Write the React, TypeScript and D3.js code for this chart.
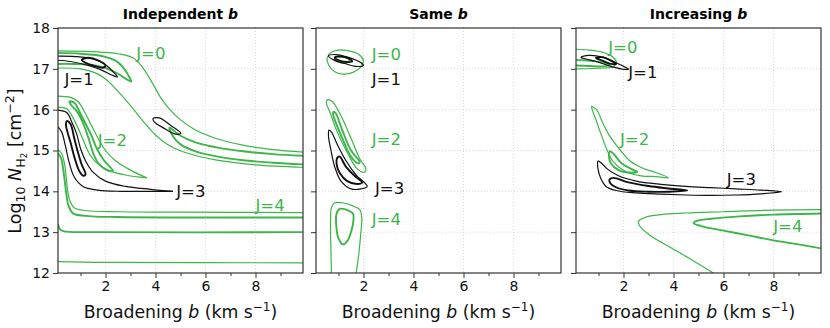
import { useLayoutEffect, useRef } from 'react'
import * as d3 from 'd3'

type Pt = [number, number]

// panel setup
const panelTitles = ['Independent', 'Same', 'Increasing']
const xTicks = [2, 4, 6, 8]
const xMinorTicks = [1, 3, 5, 7, 9]
const yTicks = [12, 13, 14, 15, 16, 17, 18]

// ---- Independent b ----
const indepJ0OuterTop: Pt[] = [[0.1, 17.44], [1.5, 17.42], [2.5, 17.37], [3.1, 17.27], [3.5, 17.02], [3.88, 16.65], [4.2, 16.3], [4.55, 16.02], [5.0, 15.75], [5.6, 15.5], [6.4, 15.3], [7.5, 15.13], [8.7, 15.02], [9.9, 14.96]]
const indepJ0OuterBottom: Pt[] = [[0.1, 17.02], [1.0, 17.0], [1.6, 16.9], [2.0, 16.75], [2.5, 16.45], [3.0, 16.1], [3.5, 15.72], [4.0, 15.38], [4.5, 15.14], [5.1, 14.97], [6.4, 14.77], [8.0, 14.65], [9.9, 14.59]]
const indepJ0InnerTongue: Pt[] = [[0.1, 17.39], [1.0, 17.37], [1.8, 17.32], [2.4, 17.2], [2.75, 17.0], [2.95, 16.8], [3.03, 16.69], [2.85, 16.74], [2.5, 16.88], [2.0, 17.02], [1.4, 17.1], [0.7, 17.12], [0.1, 17.12]]
const indepJ0InnerRight: Pt[] = [[9.9, 14.87], [8.7, 14.91], [7.5, 14.98], [6.5, 15.07], [5.6, 15.2], [5.0, 15.36], [4.56, 15.56], [4.7, 15.35], [5.0, 15.15], [5.6, 14.98], [6.5, 14.85], [7.5, 14.76], [8.7, 14.7], [9.9, 14.66]]
const indepJ1Outer: Pt[] = [[0.1, 17.31], [0.8, 17.3], [1.5, 17.24], [2.0, 17.1], [2.3, 16.93], [2.48, 16.8], [2.25, 16.85], [1.8, 16.98], [1.2, 17.1], [0.6, 17.18], [0.1, 17.21]]
const indepJ1Inner: Pt[] = [[1.05, 17.22], [1.3, 17.27], [1.7, 17.21], [2.0, 17.08], [1.9, 17.03], [1.55, 17.07], [1.2, 17.15]]
const indepJ1Side: Pt[] = [[3.9, 15.78], [4.15, 15.8], [4.6, 15.62], [5.02, 15.42], [4.8, 15.4], [4.3, 15.56], [3.95, 15.7]]
const indepJ2OuterLeft: Pt[] = [[0.1, 16.06], [0.45, 16.02], [0.7, 15.8], [0.9, 15.55], [1.08, 15.3], [1.3, 14.98], [1.6, 14.72], [2.1, 14.52], [2.8, 14.4], [3.65, 14.33]]
const indepJ2OuterRight: Pt[] = [[0.1, 16.33], [0.6, 16.3], [0.9, 16.2], [1.2, 15.9], [1.45, 15.6], [1.7, 15.3], [2.0, 15.0], [2.4, 14.75], [3.0, 14.52], [3.65, 14.33]]
const indepJ2Inner: Pt[] = [[0.55, 16.2], [0.75, 16.17], [1.0, 15.9], [1.25, 15.6], [1.45, 15.35], [1.65, 15.05], [1.95, 14.75], [2.3, 14.5], [2.05, 14.52], [1.7, 14.7], [1.5, 14.95], [1.32, 15.3], [1.15, 15.6], [0.9, 15.92], [0.62, 16.12]]
const indepJ3OuterLower: Pt[] = [[0.1, 15.58], [0.25, 15.45], [0.4, 15.1], [0.55, 14.7], [0.75, 14.35], [1.1, 14.12], [1.7, 14.03], [2.6, 14.0], [3.6, 14.0], [4.7, 14.0]]
const indepJ3OuterUpper: Pt[] = [[0.1, 15.99], [0.45, 15.93], [0.65, 15.7], [0.84, 15.42], [1.0, 15.05], [1.2, 14.75], [1.5, 14.47], [2.0, 14.25], [2.8, 14.12], [3.8, 14.05], [4.7, 14.0]]
const indepJ3Inner: Pt[] = [[0.45, 15.72], [0.6, 15.65], [0.75, 15.3], [0.9, 14.95], [1.05, 14.65], [1.2, 14.42], [1.12, 14.38], [0.95, 14.5], [0.75, 14.85], [0.6, 15.2], [0.48, 15.45], [0.42, 15.62]]
const indepJ4OuterTop: Pt[] = [[0.1, 15.02], [0.25, 14.92], [0.38, 14.6], [0.47, 14.1], [0.57, 13.78], [0.75, 13.6], [1.2, 13.53], [2.5, 13.5], [5, 13.49], [9.9, 13.48]]
const indepJ4InnerTop: Pt[] = [[0.1, 14.93], [0.22, 14.82], [0.33, 14.45], [0.42, 14.0], [0.52, 13.65], [0.7, 13.46], [1.2, 13.4], [2.5, 13.37], [5, 13.36], [9.9, 13.36]]
const indepJ4InnerBottom: Pt[] = [[0.1, 13.2], [0.18, 13.07], [0.35, 13.02], [1.5, 13.0], [9.9, 13.0]]
const indepJ4OuterBottom: Pt[] = [[0.1, 12.28], [2, 12.26], [9.9, 12.25]]

// ---- Same b ----
const sameJ0Outer: Pt[] = [[0.55, 17.28], [0.7, 17.4], [1.0, 17.46], [1.4, 17.44], [1.8, 17.36], [1.99, 17.22], [1.9, 17.05], [1.6, 16.92], [1.2, 16.87], [0.85, 16.93], [0.62, 17.08]]
const sameJ0Inner: Pt[] = [[0.85, 17.25], [1.0, 17.3], [1.3, 17.28], [1.45, 17.2], [1.3, 17.15], [1.0, 17.17]]
const sameJ1Outer: Pt[] = [[0.6, 17.32], [0.9, 17.35], [1.4, 17.28], [1.9, 17.15], [2.0, 17.08], [1.7, 17.06], [1.2, 17.14], [0.8, 17.22]]
const sameJ1Inner: Pt[] = [[0.85, 17.28], [1.1, 17.3], [1.45, 17.24], [1.55, 17.18], [1.3, 17.17], [1.0, 17.21]]
const sameJ2Outer: Pt[] = [[0.55, 16.24], [0.75, 16.2], [1.1, 15.85], [1.5, 15.3], [1.85, 14.8], [2.1, 14.55], [2.05, 14.47], [1.75, 14.55], [1.35, 14.95], [0.95, 15.45], [0.65, 15.95], [0.52, 16.15]]
const sameJ2Inner: Pt[] = [[0.8, 15.95], [0.9, 15.9], [1.15, 15.5], [1.5, 15.0], [1.85, 14.72], [1.8, 14.68], [1.5, 14.85], [1.15, 15.3], [0.85, 15.75], [0.78, 15.9]]
const sameJ3Outer: Pt[] = [[0.62, 15.5], [0.72, 15.45], [0.95, 15.15], [1.3, 14.75], [1.7, 14.4], [2.15, 14.12], [1.9, 14.06], [1.5, 14.06], [1.1, 14.25], [0.85, 14.6], [0.7, 15.0], [0.6, 15.35]]
const sameJ3Inner: Pt[] = [[0.95, 14.82], [1.05, 14.85], [1.3, 14.6], [1.7, 14.35], [1.95, 14.22], [1.75, 14.18], [1.35, 14.25], [1.05, 14.45], [0.93, 14.65]]
const sameJ4Outer: Pt[] = [[0.72, 11.9], [0.7, 12.5], [0.68, 13.2], [0.72, 13.6], [0.85, 13.72], [1.15, 13.72], [1.55, 13.65], [1.85, 13.55], [1.93, 13.35], [1.88, 12.9], [1.8, 12.4], [1.68, 11.9]]
const sameJ4Inner: Pt[] = [[0.92, 13.45], [1.05, 13.57], [1.3, 13.55], [1.58, 13.45], [1.6, 13.3], [1.5, 13.0], [1.35, 12.78], [1.18, 12.7], [1.0, 12.85], [0.92, 13.1]]

// ---- Increasing b ----
const incrJ0Outer: Pt[] = [[0.1, 17.48], [0.6, 17.46], [1.2, 17.4], [1.55, 17.3], [1.72, 17.15], [1.6, 17.05], [1.2, 17.02], [0.1, 17.0]]
const incrJ0Inner: Pt[] = [[0.1, 17.22], [0.6, 17.2], [1.1, 17.16], [1.45, 17.1], [1.2, 17.06], [0.6, 17.07], [0.1, 17.08]]
const incrJ1Outer: Pt[] = [[0.3, 17.28], [0.6, 17.33], [1.2, 17.28], [1.7, 17.15], [2.1, 17.03], [2.2, 16.99], [1.9, 17.0], [1.4, 17.08], [0.9, 17.18], [0.5, 17.24]]
const incrJ1Inner: Pt[] = [[0.9, 17.27], [1.2, 17.28], [1.5, 17.2], [1.7, 17.12], [1.5, 17.12], [1.15, 17.2]]
const incrJ2Outer: Pt[] = [[0.72, 16.08], [0.8, 16.06], [0.95, 15.98], [1.15, 15.7], [1.4, 15.4], [1.75, 15.1], [2.25, 14.75], [2.8, 14.56], [3.3, 14.46], [3.8, 14.33], [3.3, 14.36], [2.7, 14.38], [2.1, 14.48], [1.6, 14.72], [1.35, 15.0], [1.1, 15.4], [0.9, 15.75], [0.75, 16.0]]
const incrJ2Inner: Pt[] = [[1.45, 14.98], [1.6, 14.92], [1.9, 14.7], [2.3, 14.55], [2.55, 14.48], [2.2, 14.46], [1.8, 14.52], [1.5, 14.68], [1.42, 14.85]]
const incrJ3Outer: Pt[] = [[0.98, 14.74], [1.1, 14.7], [1.35, 14.55], [1.8, 14.38], [2.5, 14.25], [3.5, 14.17], [4.5, 14.12], [5.5, 14.09], [6.5, 14.06], [7.5, 14.03], [8.33, 13.99], [7.5, 13.94], [6.5, 13.91], [5.5, 13.9], [4.5, 13.91], [3.5, 13.93], [2.5, 13.96], [1.7, 14.02], [1.3, 14.12], [1.1, 14.3], [0.98, 14.55]]
const incrJ3Inner: Pt[] = [[1.45, 14.3], [1.6, 14.33], [2.2, 14.22], [3.0, 14.13], [3.8, 14.07], [4.55, 14.02], [3.8, 13.99], [3.0, 13.99], [2.2, 14.02], [1.7, 14.1], [1.45, 14.22]]
const incrJ4Outer: Pt[] = [[10.2, 13.55], [8, 13.54], [6, 13.5], [4.5, 13.47], [3.5, 13.43], [2.9, 13.37], [2.6, 13.27], [2.65, 13.15], [3.0, 12.95], [3.6, 12.72], [4.3, 12.48], [5.0, 12.22], [5.7, 11.96]]
const incrJ4Inner: Pt[] = [[10.2, 13.46], [8, 13.43], [6.5, 13.38], [5.5, 13.33], [4.9, 13.27], [4.8, 13.22], [5.1, 13.15], [5.9, 13.05], [7.0, 12.92], [8.0, 12.8], [9.0, 12.7], [10.2, 12.57]]

// label anchors (left edge, vertical centre) in data units
const indepLabels: Pt[] = [[3.23, 17.38], [0.36, 16.75], [1.69, 15.26], [4.83, 14.0], [8.0, 13.66]]
const sameLabels: Pt[] = [[2.33, 17.36], [2.33, 16.75], [2.33, 15.28], [2.46, 14.09], [2.33, 13.32]]
const incrLabels: Pt[] = [[1.39, 17.54], [2.19, 16.93], [1.86, 15.29], [6.13, 14.3], [7.99, 13.15]]
const labelNames = ['J=0', 'J=1', 'J=2', 'J=3', 'J=4']

const panels = [
  {
    contours: [
      { pts: indepJ0OuterTop, j: 0 }, { pts: indepJ0OuterBottom, j: 0 },
      { pts: indepJ0InnerTongue, j: 0, inner: true }, { pts: indepJ0InnerRight, j: 0, inner: true },
      { pts: indepJ1Outer, j: 1 }, { pts: indepJ1Inner, j: 1, inner: true, closed: true },
      { pts: indepJ1Side, j: 1, closed: true },
      { pts: indepJ2OuterLeft, j: 2 }, { pts: indepJ2OuterRight, j: 2 },
      { pts: indepJ2Inner, j: 2, inner: true, closed: true },
      { pts: indepJ3OuterLower, j: 3 }, { pts: indepJ3OuterUpper, j: 3 },
      { pts: indepJ3Inner, j: 3, inner: true, closed: true },
      { pts: indepJ4OuterTop, j: 4 }, { pts: indepJ4InnerTop, j: 4, inner: true },
      { pts: indepJ4InnerBottom, j: 4, inner: true }, { pts: indepJ4OuterBottom, j: 4 }
    ],
    labels: indepLabels
  },
  {
    contours: [
      { pts: sameJ0Outer, j: 0, closed: true }, { pts: sameJ0Inner, j: 0, inner: true, closed: true },
      { pts: sameJ1Outer, j: 1, closed: true }, { pts: sameJ1Inner, j: 1, inner: true, closed: true },
      { pts: sameJ2Outer, j: 2, closed: true }, { pts: sameJ2Inner, j: 2, inner: true, closed: true },
      { pts: sameJ3Outer, j: 3, closed: true }, { pts: sameJ3Inner, j: 3, inner: true, closed: true },
      { pts: sameJ4Outer, j: 4 }, { pts: sameJ4Inner, j: 4, inner: true, closed: true }
    ],
    labels: sameLabels
  },
  {
    contours: [
      { pts: incrJ0Outer, j: 0 }, { pts: incrJ0Inner, j: 0, inner: true },
      { pts: incrJ1Outer, j: 1, closed: true }, { pts: incrJ1Inner, j: 1, inner: true, closed: true },
      { pts: incrJ2Outer, j: 2, closed: true }, { pts: incrJ2Inner, j: 2, inner: true, closed: true },
      { pts: incrJ3Outer, j: 3, closed: true }, { pts: incrJ3Inner, j: 3, inner: true, closed: true },
      { pts: incrJ4Outer, j: 4 }, { pts: incrJ4Inner, j: 4, inner: true }
    ],
    labels: incrLabels
  }
]

const GREEN = '#3db54a'
const BLACK = '#111'
const FONT = 'DejaVu Sans'
const panelLeft = [58, 316, 576]
const TOP = 28
const PW = 245
const PH = 245

const useD3 = (renderChartFn, dependencies) => {
  const ref = useRef()
  useLayoutEffect(() => {
    renderChartFn(d3.select(ref.current))
    return () => {}
  }, dependencies)
  return ref
}

const App = () => {
  const ref = useD3((svg) => {
    svg.selectAll('*').remove()
    const x = d3.scaleLinear().domain([0.1, 9.9]).range([0, PW])
    const y = d3.scaleLinear().domain([12, 18]).range([PH, 0])
    const defs = svg.append('defs')

    panels.forEach((p, i) => {
      const g = svg.append('g').attr('transform', `translate(${panelLeft[i]},${TOP})`)
      defs.append('clipPath').attr('id', `clip${i}`)
        .append('rect').attr('width', PW).attr('height', PH)

      // grid
      g.append('g').selectAll('line').data(xTicks).join('line')
        .attr('x1', (d) => x(d)).attr('x2', (d) => x(d)).attr('y1', 0).attr('y2', PH)
        .attr('stroke', '#cfcfcf').attr('stroke-width', 0.8).attr('stroke-dasharray', '1,2')
      g.append('g').selectAll('line').data(yTicks.slice(1, -1)).join('line')
        .attr('y1', (d) => y(d)).attr('y2', (d) => y(d)).attr('x1', 0).attr('x2', PW)
        .attr('stroke', '#cfcfcf').attr('stroke-width', 0.8).attr('stroke-dasharray', '1,2')

      // contours
      const cg = g.append('g').attr('clip-path', `url(#clip${i})`)
      p.contours.forEach((c) => {
        const line = d3.line()
          .x((d) => x(d[0]))
          .y((d) => y(d[1]))
          .curve(c.closed ? d3.curveCatmullRomClosed.alpha(0.5) : d3.curveCatmullRom.alpha(0.5))
        cg.append('path')
          .attr('d', line(c.pts))
          .attr('fill', 'none')
          .attr('stroke', c.j % 2 ? BLACK : GREEN)
          .attr('stroke-width', c.inner ? 1.9 : 1.2)
          .attr('stroke-linejoin', 'round')
      })

      // J labels
      g.append('g').selectAll('text').data(p.labels).join('text')
        .attr('x', (d) => x(d[0]))
        .attr('y', (d) => y(d[1]))
        .attr('dy', '0.36em')
        .attr('font-family', FONT)
        .attr('font-size', 16.5)
        .attr('fill', (d, k) => (k % 2 ? BLACK : GREEN))
        .text((d, k) => labelNames[k])

      // frame
      g.append('rect').attr('width', PW).attr('height', PH)
        .attr('fill', 'none').attr('stroke', '#333').attr('stroke-width', 1.2)

      // axes
      const xa = g.append('g').attr('transform', `translate(0,${PH})`)
        .call(d3.axisBottom(x).tickValues(xTicks).tickSize(5).tickPadding(3))
      const xm = g.append('g').attr('transform', `translate(0,${PH})`)
        .call(d3.axisBottom(x).tickValues(xMinorTicks).tickSize(3).tickFormat(() => ''))
      const ya = g.append('g')
        .call(d3.axisLeft(y).tickValues(yTicks).tickSize(5).tickPadding(3)
          .tickFormat(i === 0 ? d3.format('d') : () => ''))
      ;[xa, xm, ya].forEach((a) => {
        a.select('.domain').remove()
        a.selectAll('line').attr('stroke', '#333').attr('stroke-width', 1)
        a.selectAll('text').attr('font-family', FONT).attr('font-size', 14).attr('fill', '#111')
      })

      // title
      const t = svg.append('text')
        .attr('x', panelLeft[i] + PW / 2).attr('y', 19)
        .attr('text-anchor', 'middle')
        .attr('font-family', FONT).attr('font-size', 14).attr('font-weight', 'bold')
      t.append('tspan').text(panelTitles[i] + ' ')
      t.append('tspan').attr('font-style', 'italic').text('b')

      // x label
      const xl = svg.append('text')
        .attr('x', panelLeft[i] + PW / 2).attr('y', 318)
        .attr('text-anchor', 'middle')
        .attr('font-family', FONT).attr('font-size', 17.3).attr('fill', '#111')
      xl.append('tspan').text('Broadening ')
      xl.append('tspan').attr('font-style', 'italic').text('b')
      xl.append('tspan').text(' (km s')
      xl.append('tspan').attr('font-size', 12).attr('dy', -7).text('−1')
      xl.append('tspan').attr('dy', 7).text(')')
    })

    // y label
    const yl = svg.append('text')
      .attr('transform', 'translate(21,161) rotate(-90)')
      .attr('text-anchor', 'middle')
      .attr('font-family', FONT).attr('font-size', 17.5).attr('fill', '#111')
    yl.append('tspan').text('Log')
    yl.append('tspan').attr('font-size', 12.5).attr('dy', 4).text('10')
    yl.append('tspan').attr('dy', -4).text(' ')
    yl.append('tspan').attr('font-style', 'italic').text('N')
    yl.append('tspan').attr('font-size', 12.5).attr('dy', 4).text('H')
    yl.append('tspan').attr('font-size', 9).attr('dy', 2).text('2')
    yl.append('tspan').attr('dy', -6).text(' [cm')
    yl.append('tspan').attr('font-size', 12.5).attr('dy', -7).text('−2')
    yl.append('tspan').attr('dy', 7).text(']')
  }, [])

  return (
    <svg
      ref={ref}
      width={830}
      height={328}
      style={{ position: 'absolute', left: 0, top: 0, background: '#fff' }}
    />
  )
}

export default App
